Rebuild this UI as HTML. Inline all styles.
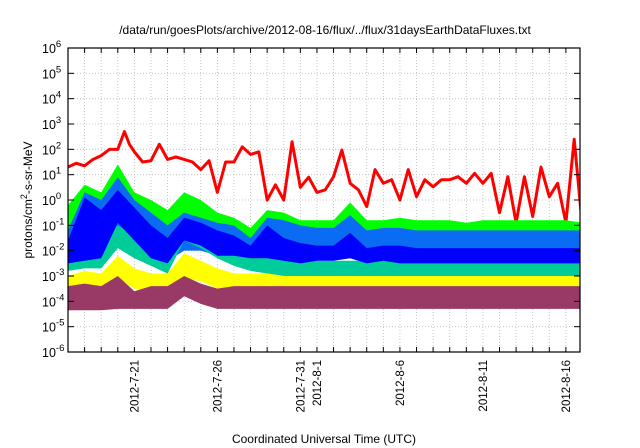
<!DOCTYPE html>
<html><head><meta charset="utf-8"><style>
body{margin:0;background:#fff;}
svg{display:block;font-family:"Liberation Sans",sans-serif;}
</style></head><body>
<svg id="chart" width="640" height="448" viewBox="0 0 640 448">
<rect width="640" height="448" fill="#fff"/>
<text x="325" y="34" font-size="12" text-anchor="middle">/data/run/goesPlots/archive/2012-08-16/flux/../flux/31daysEarthDataFluxes.txt</text>
<text transform="translate(32,200) rotate(-90)" font-size="12" text-anchor="middle">protons/cm<tspan dy="-5" font-size="9">2</tspan><tspan dy="5">-s-sr-MeV</tspan></text>
<text x="324" y="443" font-size="12" text-anchor="middle">Coordinated Universal Time (UTC)</text>
<defs><clipPath id="pc"><rect x="68" y="48" width="512" height="304"/></clipPath></defs>
<g id="grid"></g>
<g id="series" clip-path="url(#pc)"></g>
<g id="axes"></g>
</svg>
<script>
const yTicks=[6,5,4,3,2,1,0,-1,-2,-3,-4,-5,-6];
const xLabelDays=[4,9,14,15,20,25,30];
const xLabels=["2012-7-21","2012-7-26","2012-7-31","2012-8-1","2012-8-6","2012-8-11","2012-8-16"];
const bandDays=[0,1,2,3,4,5,6,7,8,9,10,11,12,13,14,15,16,17,18,19,20,21,22,23,24,25,26,27,28,29,30,31];
const greenHi=[-0.2,0.6,0.3,1.4,0.3,0,-0.4,0.3,0,-0.5,-0.7,-1.1,-0.4,-0.5,-0.8,-0.8,-0.8,-0.1,-0.8,-0.8,-0.7,-0.8,-0.8,-0.8,-0.9,-0.8,-0.8,-0.8,-0.8,-0.8,-0.8,-0.9];
const greenLo=[-1.3,-1.6,-1.3,-0.4,-0.8,-1.1,-1.5,-0.8,-1,-1.4,-1.6,-1.8,-1.4,-1.4,-1.5,-1.4,-1.4,-1.1,-1.4,-1.4,-1.4,-1.4,-1.4,-1.4,-1.4,-1.4,-1.4,-1.4,-1.4,-1.4,-1.4,-1.4];
const azureHi=[-1.2,0.3,0,0.9,0,-0.5,-1,-0.5,-0.7,-0.9,-1,-1.5,-0.7,-0.8,-1,-1.1,-1.1,-0.6,-1.2,-1.1,-1.1,-1.2,-1.2,-1.2,-1.2,-1.2,-1.2,-1.2,-1.2,-1.2,-1.2,-1.2];
const azureLo=[-2.6,-2.6,-2.4,-1.3,-1.8,-2.3,-2.4,-2,-2,-2.2,-2.3,-2.4,-2.2,-2.3,-2.3,-2.3,-2.3,-2.2,-2.3,-2.3,-2.3,-2.3,-2.3,-2.3,-2.3,-2.3,-2.3,-2.3,-2.3,-2.3,-2.3,-2.3];
const blueHi=[-1.6,0.1,-0.4,0.4,-0.3,-1.0,-1.5,-0.7,-0.9,-1.2,-1.4,-1.8,-1.0,-1.5,-1.7,-1.8,-1.8,-1.3,-1.9,-1.8,-1.8,-1.9,-1.9,-1.9,-1.9,-1.9,-1.9,-1.9,-1.9,-1.9,-1.9,-1.9];
const blueLo=[-2.5,-2.4,-2.3,-0.9,-1.6,-2.3,-2.5,-1.6,-1.8,-2.2,-2.2,-2.3,-2.3,-2.4,-2.5,-2.4,-2.4,-2.3,-2.5,-2.4,-2.5,-2.5,-2.5,-2.5,-2.5,-2.5,-2.5,-2.5,-2.5,-2.5,-2.5,-2.5];
const tealHi=[-1.7,-1.5,-1.6,-1,-1.4,-1.8,-2.3,-1,-1.3,-1.5,-1.8,-2,-2.2,-2.3,-2.4,-2.4,-2.4,-2.4,-2.4,-2.4,-2.4,-2.4,-2.4,-2.4,-2.4,-2.4,-2.4,-2.4,-2.4,-2.4,-2.4,-2.4];
const tealLo=[-2.8,-2.7,-2.7,-1.9,-2.3,-2.6,-2.9,-1.6,-1.9,-2.3,-2.6,-2.8,-2.9,-3.0,-3.0,-3.0,-3.0,-3.0,-3.0,-3.0,-3.0,-3.0,-3.0,-3.0,-3.0,-3.0,-3.0,-3.0,-3.0,-3.0,-3.0,-3.0];
const yellowHi=[-3,-2.8,-2.9,-2.2,-2.7,-2.9,-2.9,-2.1,-2.4,-2.7,-2.9,-2.9,-2.9,-3.0,-3.0,-3.0,-3.0,-3.0,-3.0,-3.0,-3.0,-3.0,-3.0,-3.0,-3.0,-3.0,-3.0,-3.0,-3.0,-3.0,-3.0,-3.0];
const yellowLo=[-3.5,-3.4,-3.5,-3.1,-3.5,-3.6,-3.5,-3.1,-3.2,-3.5,-3.5,-3.5,-3.5,-3.5,-3.5,-3.5,-3.5,-3.5,-3.5,-3.5,-3.5,-3.5,-3.5,-3.5,-3.5,-3.5,-3.5,-3.5,-3.5,-3.5,-3.5,-3.5];
const maroonHi=[-3.4,-3.3,-3.4,-3,-3.6,-3.4,-3.4,-3,-3.3,-3.5,-3.4,-3.4,-3.4,-3.4,-3.4,-3.4,-3.4,-3.4,-3.4,-3.4,-3.4,-3.4,-3.4,-3.4,-3.4,-3.4,-3.4,-3.4,-3.4,-3.4,-3.4,-3.4];
const maroonLo=[-4.35,-4.35,-4.35,-4.3,-4.3,-4.3,-4.3,-3.8,-4.1,-4.3,-4.3,-4.3,-4.3,-4.3,-4.3,-4.3,-4.3,-4.3,-4.3,-4.3,-4.3,-4.3,-4.3,-4.3,-4.3,-4.3,-4.3,-4.3,-4.3,-4.3,-4.3,-4.3];
const redDays=[0,0.5,1,1.5,2,2.5,3,3.4,3.7,4,4.5,5,5.5,6,6.5,7,7.5,8,8.5,9,9.5,10,10.5,11,11.5,12,12.5,13,13.5,14,14.5,15,15.5,16,16.5,17,17.5,18,18.5,19,19.5,20,20.5,21,21.5,22,22.5,23,23.5,24,24.5,25,25.5,26,26.5,27,27.5,28,28.5,29,29.5,30,30.5,30.9];
const redLog=[1.3,1.45,1.35,1.6,1.75,2.0,2.0,2.7,2.2,1.9,1.5,1.55,2.2,1.6,1.7,1.6,1.5,1.2,1.55,0.3,1.5,1.5,2.1,1.8,1.9,0,0.6,0,2.3,0.5,0.9,0.3,0.4,0.92,1.97,0.66,0.4,-0.26,1.2,0.66,0.8,0,1.2,0.13,0.8,0.52,0.8,0.8,0.92,0.66,1.05,0.66,1.05,-0.5,0.92,-0.9,0.92,-0.65,1.3,0.13,0.66,-0.9,2.4,-0.4];

const X0=68,X1=580,Y0=48,Y1=352,D0=0,D1=30.85;
const xs=d=>X0+(d-D0)/(D1-D0)*(X1-X0);
const ys=v=>Y0+(6-v)/12*(Y1-Y0);
const NS="http://www.w3.org/2000/svg";
function mk(tag,parent){const e=document.createElementNS(NS,tag);parent.appendChild(e);return e;}
const grid=document.getElementById('grid'),series=document.getElementById('series'),axes=document.getElementById('axes');

for(let d=1;d<31;d++){
  const l=mk('line',grid);
  
  
  l.setAttribute('x1',xs(d));l.setAttribute('x2',xs(d));l.setAttribute('y1',Y0);l.setAttribute('y2',Y1);
  l.setAttribute('stroke','#bbb');l.setAttribute('stroke-dasharray','1,2');l.setAttribute('stroke-width','0.8');
  for(const [ya,yb] of [[Y1,Y1-5],[Y0,Y0+5]]){
    const t=mk('line',axes);
    
    
    t.setAttribute('x1',xs(d));t.setAttribute('x2',xs(d));t.setAttribute('y1',ya);t.setAttribute('y2',yb);t.setAttribute('stroke','#000');
  }
}
yTicks.forEach(v=>{
  const y=ys(v);
  if(v<6&&v>-6){
    const l=mk('line',grid);
    
    
    l.setAttribute('x1',X0);l.setAttribute('x2',X1);l.setAttribute('y1',y);l.setAttribute('y2',y);
    l.setAttribute('stroke','#bbb');l.setAttribute('stroke-dasharray','1,2');l.setAttribute('stroke-width','0.8');
  }
  for(const [xa,xb] of [[X0,X0+6],[X1,X1-6]]){
    const t=mk('line',axes);
    
    
    t.setAttribute('x1',xa);t.setAttribute('x2',xb);t.setAttribute('y1',y);t.setAttribute('y2',y);t.setAttribute('stroke','#000');
  }
  const tx=mk('text',axes);
  
  
  tx.setAttribute('x',42);tx.setAttribute('y',y+5);tx.setAttribute('font-size','12.5');tx.setAttribute('text-anchor','start');
  tx.innerHTML='10<tspan dy="-6" font-size="9.5">'+v+'</tspan>';
});
xLabelDays.forEach((d,i)=>{
  const tx=mk('text',axes);
  
  
  tx.setAttribute('transform','translate('+(xs(d)+4)+',360) rotate(-90)');
  tx.setAttribute('font-size','11.5');tx.setAttribute('text-anchor','end');
  tx.textContent=xLabels[i];
});
function band(hi,lo,color,name){
  let pts=bandDays.map((d,i)=>xs(d)+','+ys(hi[i]));
  for(let i=bandDays.length-1;i>=0;i--)pts.push(xs(bandDays[i])+','+ys(lo[i]));
  const p=mk('polygon',series);
  
  
  p.setAttribute('points',pts.join(' '));p.setAttribute('fill',color);
}
const rl=mk('polyline',series);


rl.setAttribute('points',redDays.map((d,i)=>xs(d)+','+ys(redLog[i])).join(' '));
rl.setAttribute('fill','none');rl.setAttribute('stroke','#ff0000');rl.setAttribute('stroke-width','3');rl.setAttribute('stroke-linejoin','round');
band(greenHi,greenLo,'#00ff00','green-series');
band(azureHi,azureLo,'#0a6cf2','azure-series');
band(tealHi,tealLo,'#00cc99','teal-series');
band(blueHi,blueLo,'#0000ff','blue-series');
band(yellowHi,yellowLo,'#ffff00','yellow-series');
band(maroonHi,maroonLo,'#993a66','maroon-series');
const fr=mk('rect',axes);


fr.setAttribute('x',X0);fr.setAttribute('y',Y0);fr.setAttribute('width',X1-X0);fr.setAttribute('height',Y1-Y0);
fr.setAttribute('fill','none');fr.setAttribute('stroke','#000');fr.setAttribute('stroke-width','1.2');
</script>
</body></html>
